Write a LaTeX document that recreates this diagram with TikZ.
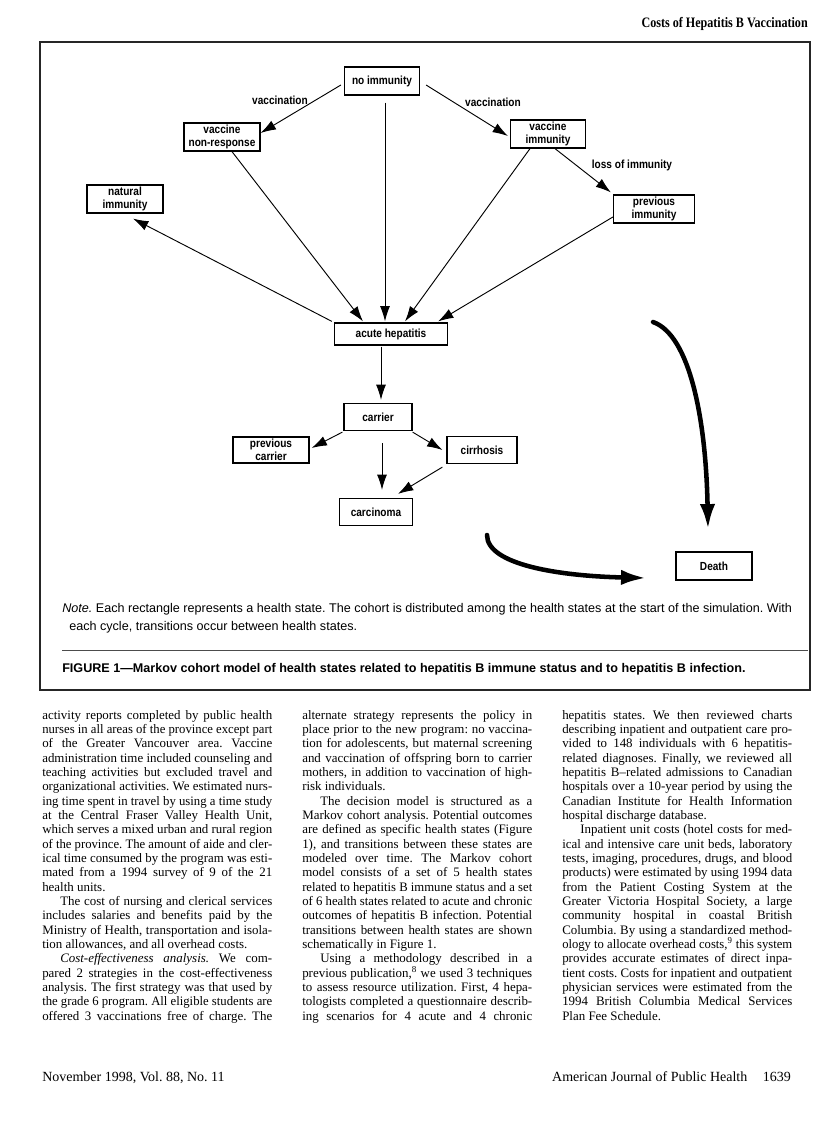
\documentclass[tikz,border=0pt]{standalone}
\usepackage{fontspec}
\usepackage{graphicx}
\setmainfont{Liberation Serif}
\newfontfamily\dg[FakeStretch=0.86]{Liberation Sans}
\newfontfamily\sfn{Liberation Sans}
\newfontfamily\hdr[FakeStretch=0.84]{Liberation Serif}
\usetikzlibrary{arrows.meta,calc}
\frenchspacing
\newlength\cw \setlength\cw{172.5pt}
\newlength\pin \setlength\pin{13.5pt}
\newsavebox\lbox
\newcommand\fitbox[2]{\sbox\lbox{#2}\ifdim\wd\lbox>#1\relax\resizebox{#1}{\ht\lbox}{\usebox\lbox}\else\makebox[#1][s]{#2}\fi}
\newcommand\jl[1]{\fitbox{\cw}{#1}\\}
\newcommand\jli[1]{\hspace*{\pin}\fitbox{\dimexpr\cw-\pin\relax}{#1}\\}
\newcommand\lastl[1]{\mbox{#1}\\}
\tikzset{
  st/.style 2 args={draw, line width=0.9pt, fill=white, font=\dg\bfseries\fontsize{8.8}{9.6}\selectfont,
     align=center, inner sep=1pt, minimum width=#1*0.75pt, minimum height=#2*0.75pt},
  arr/.style={line width=0.7pt, -{Latex[length=11.5pt,width=7.5pt]}},
  thick arr/.style={line width=3.4pt, -{Latex[length=19pt,width=11.5pt]}},
  lbl/.style={font=\dg\bfseries\fontsize{8.8}{9.4}\selectfont, inner sep=0pt},
  col/.style={anchor=north west, inner sep=0pt, text width=\cw,
     font=\fontsize{9.7}{10.75}\selectfont},
}
\begin{document}
\begin{tikzpicture}[x=0.75pt,y=-0.75pt]
\useasboundingbox (0,0) rectangle (816,1129);
\fill[white] (0,0) rectangle (816,1129);

% header
\node[anchor=base east, inner sep=0pt, font=\hdr\bfseries\fontsize{10.8}{12}\selectfont] (hdr) at (808,27) {Costs of Hepatitis B Vaccination};

% frame
\node[draw=black!85, line width=1pt, minimum width=770*0.75pt, minimum height=648*0.75pt, inner sep=0pt] (frame) at (425,366) {};

% states
\node[st={75}{28}] (ni) at (382,81) {no immunity};
\node[st={76}{28}] (vnr) at (222,137) {vaccine\\non-response};
\node[st={75}{28}] (vi) at (548,134) {vaccine\\immunity};
\node[st={76}{28}] (nat) at (125,199) {natural\\immunity};
\node[st={81}{28}] (pi) at (654,209) {previous\\immunity};
\node[st={113}{22}] (ah) at (391,334) {acute hepatitis};
\node[st={68}{27}] (car) at (378,417) {carrier};
\node[st={76}{26}] (pc) at (271,450) {previous\\carrier};
\node[st={70}{27}] (cir) at (482,450) {cirrhosis};
\node[st={73}{27}] (carc) at (376,512) {carcinoma};
\node[st={76}{28}] (death) at (714,566) {Death};

% labels
\node[lbl] (lv1) at (280,100) {vaccination};
\node[lbl] (lv2) at (493,102) {vaccination};
\node[lbl] (lloss) at (632,165) {loss of immunity};

% connectors
\draw[arr] ($(ni.west)+(-3,4)$) -- ($(vnr.east)+(0,-4)$);
\draw[arr] ($(ni.east)+(6,4)$) -- ($(vi.west)+(-2,2)$);
\draw[arr] ($(ni.south)+(3,7)$) -- ($(ni.south |- ah.north)+(3,-1)$);
\draw[arr] ($(vnr.south)+(10,0)$) -- ($(ah.north)+(-28,-1)$);
\draw[arr] ($(vi.south)+(-18,0)$) -- ($(ah.north)+(14,-1)$);
\draw[arr] ($(vi.south)+(7,0)$) -- ($(pi.north west)+(-2,-2)$);
\draw[arr] ($(pi.west)+(0,8)$) -- ($(ah.north east)+(-10,-1)$);
\draw[arr] ($(ah.north west)+(-2,-1)$) -- ($(nat.south)+(8,5)$);
\draw[arr] ($(ah.south -| car)+(3,1)$) -- ($(car.north)+(3,-3)$);
\draw[arr] ($(car.south west)+(-1,1)$) -- ($(pc.east)+(2,-2)$);
\draw[arr] ($(car.south east)+(0,1)$) -- ($(cir.west)+(-4,0)$);
\draw[arr] ($(car.south)+(4,12)$) -- ($(car.south |- carc.north)+(4,-8)$);
\draw[arr] ($(cir.south west)+(-4,3)$) -- ($(carc.north)+(22,-4)$);

\coordinate (c1) at (653,322);
\coordinate (c2) at (487,535);
\draw[thick arr, line cap=round] (c1) .. controls (690,335) and (706,420) .. ($(death.north)+(-6,-22)$);
\draw[thick arr, line cap=round] (c2) .. controls (487,565) and (560,576) .. ($(death.west)+(-29,12)$);

% note and caption
\node[anchor=base west, inner sep=0pt, font=\sfn\fontsize{9.45}{11}\selectfont] (note1) at (62,612) {\textit{Note.} Each rectangle represents a health state. The cohort is distributed among the health states at the start of the simulation. With};
\node[anchor=base west, inner sep=0pt, font=\sfn\fontsize{9.45}{11}\selectfont] (note2) at (69,630) {each cycle, transitions occur between health states.};
\draw[black!70, line width=0.7pt] (62,650) -- (808,650);
\node[anchor=base west, inner sep=0pt, font=\sfn\bfseries\fontsize{9.45}{11}\selectfont] (cap) at (62,672) {FIGURE 1—Markov cohort model of health states related to hepatitis B immune status and to hepatitis B infection.};

% body columns
\node[col] (col1) at (42,710) {\noindent\spaceskip=0pt\xspaceskip=0pt
\jl{activity reports completed by public health}
\jl{nurses in all areas of the province except part}
\jl{of the Greater Vancouver area. Vaccine}
\jl{administration time included counseling and}
\jl{teaching activities but excluded travel and}
\jl{organizational activities. We estimated nurs-}
\jl{ing time spent in travel by using a time study}
\jl{at the Central Fraser Valley Health Unit,}
\jl{which serves a mixed urban and rural region}
\jl{of the province. The amount of aide and cler-}
\jl{ical time consumed by the program was esti-}
\jl{mated from a 1994 survey of 9 of the 21}
\lastl{health units.}
\jli{The cost of nursing and clerical services}
\jl{includes salaries and benefits paid by the}
\jl{Ministry of Health, transportation and isola-}
\lastl{tion allowances, and all overhead costs.}
\jli{\textit{Cost-effectiveness analysis.} We com-}
\jl{pared 2 strategies in the cost-effectiveness}
\jl{analysis. The first strategy was that used by}
\jl{the grade 6 program. All eligible students are}
\fitbox{\cw}{offered 3 vaccinations free of charge. The}};

\node[col] (col2) at (302,710) {\noindent\spaceskip=0pt\xspaceskip=0pt
\jl{alternate strategy represents the policy in}
\jl{place prior to the new program: no vaccina-}
\jl{tion for adolescents, but maternal screening}
\jl{and vaccination of offspring born to carrier}
\jl{mothers, in addition to vaccination of high-}
\lastl{risk individuals.}
\jli{The decision model is structured as a}
\jl{Markov cohort analysis. Potential outcomes}
\jl{are defined as specific health states (Figure}
\jl{1), and transitions between these states are}
\jl{modeled over time. The Markov cohort}
\jl{model consists of a set of 5 health states}
\jl{related to hepatitis B immune status and a set}
\jl{of 6 health states related to acute and chronic}
\jl{outcomes of hepatitis B infection. Potential}
\jl{transitions between health states are shown}
\lastl{schematically in Figure 1.}
\jli{Using a methodology described in a}
\jl{previous publication,\textsuperscript{8} we used 3 techniques}
\jl{to assess resource utilization. First, 4 hepa-}
\jl{tologists completed a questionnaire describ-}
\fitbox{\cw}{ing scenarios for 4 acute and 4 chronic}};

\node[col] (col3) at (562,710) {\noindent\spaceskip=0pt\xspaceskip=0pt
\jl{hepatitis states. We then reviewed charts}
\jl{describing inpatient and outpatient care pro-}
\jl{vided to 148 individuals with 6 hepatitis-}
\jl{related diagnoses. Finally, we reviewed all}
\jl{hepatitis B–related admissions to Canadian}
\jl{hospitals over a 10-year period by using the}
\jl{Canadian Institute for Health Information}
\lastl{hospital discharge database.}
\jli{Inpatient unit costs (hotel costs for med-}
\jl{ical and intensive care unit beds, laboratory}
\jl{tests, imaging, procedures, drugs, and blood}
\jl{products) were estimated by using 1994 data}
\jl{from the Patient Costing System at the}
\jl{Greater Victoria Hospital Society, a large}
\jl{community hospital in coastal British}
\jl{Columbia. By using a standardized method-}
\jl{ology to allocate overhead costs,\textsuperscript{9} this system}
\jl{provides accurate estimates of direct inpa-}
\jl{tient costs. Costs for inpatient and outpatient}
\jl{physician services were estimated from the}
\jl{1994 British Columbia Medical Services}
\mbox{Plan Fee Schedule.}};

% footer
\node[anchor=base west, inner sep=0pt, font=\fontsize{10.5}{12}\selectfont] (fl) at (42,1081) {November 1998, Vol. 88, No. 11};
\node[anchor=base east, inner sep=0pt, font=\fontsize{10.5}{12}\selectfont] (fr) at (791,1081) {American Journal of Public Health\hspace{1.1em}1639};
\end{tikzpicture}
\end{document}
